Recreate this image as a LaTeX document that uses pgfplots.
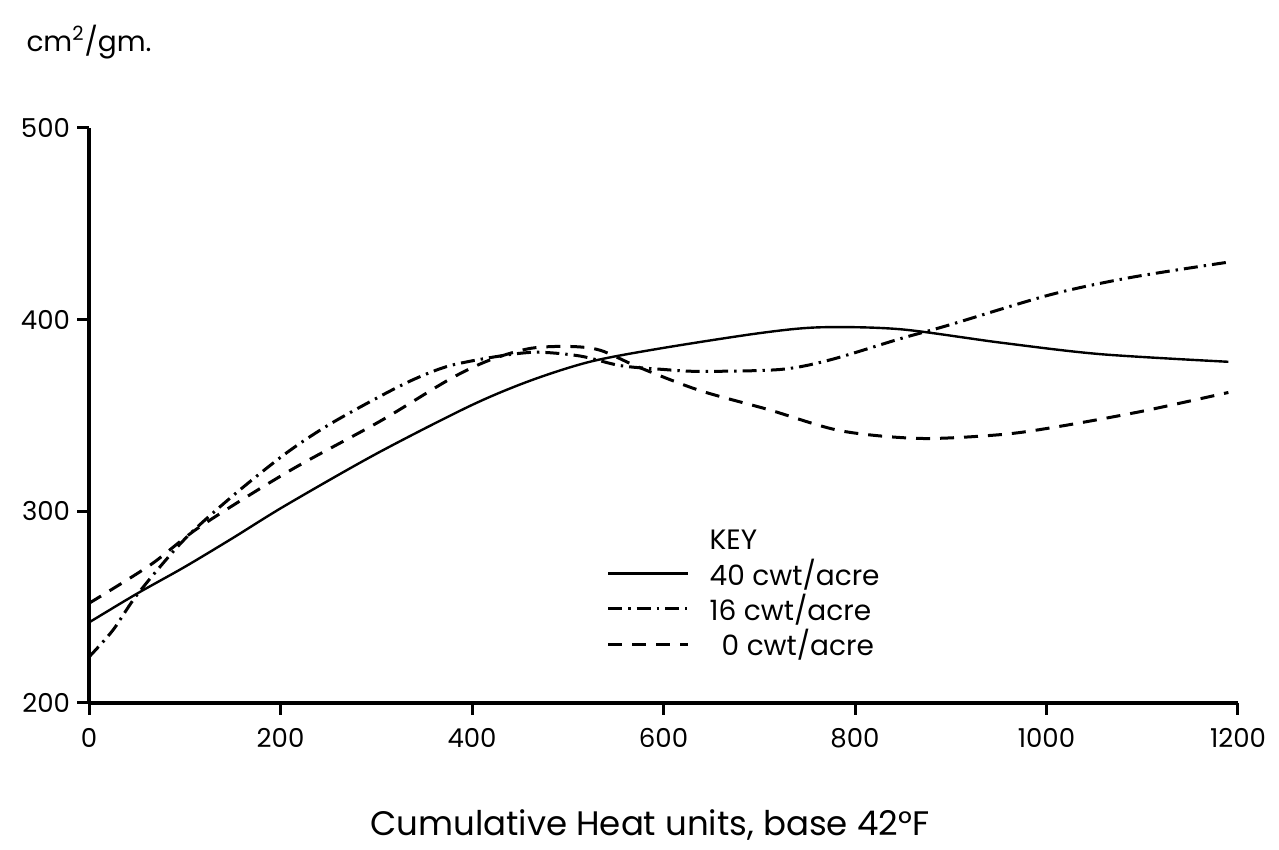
\documentclass[border=0pt]{standalone}
\usepackage{pgfplots}
\pgfplotsset{compat=1.18}
\usepackage{fontspec}
\setmainfont{Poppins}
\begin{document}
\begin{tikzpicture}
\begin{axis}[
  scale only axis,
  clip mode=individual,
  width=574.5pt, height=287.5pt,
  xmin=0, xmax=1200, ymin=200, ymax=500,
  axis x line=bottom, axis y line=left,
  axis line style={-, line width=1.8pt, black},
  xtick={0,200,400,600,800,1000,1200},
  ytick={200,300,400,500},
  tick align=outside,
  major tick length=6pt,
  tick style={line width=1.5pt, black},
  /pgf/number format/assume math mode=true,
  /pgf/number format/1000 sep={},
  tick label style={font=\fontsize{13}{13}\selectfont},
  xticklabel style={yshift=-3pt},
  legend style={at={(rel axis cs:0.445,0.315)}, anchor=north west, draw=none, fill=none,
    font=\fontsize{14}{16}\selectfont, row sep=-1pt},
  legend cell align=left,
  legend image code/.code={\draw[#1] (0pt,0pt) -- (40pt,0pt);},
]
\addlegendimage{empty legend}
\addlegendentry{\hspace{8pt}KEY}
\addplot[black, line width=1.2pt, smooth] coordinates {
(0,242) (50,257) (100,271) (150,286) (205,303) (300,330) (398,355) (460,368)
(523,378) (597,385) (701,393) (764,396) (847,395) (952,388) (1056,382) (1190,378)};
\addlegendentry{\hspace{8pt}40 cwt/acre}
\addplot[black, line width=1.5pt, smooth, dash pattern=on 7pt off 3pt on 1.2pt off 3pt] coordinates {
(0,224) (25,238) (51,257) (99,285) (150,308) (205,330) (250,345) (304,360) (340,369)
(377,376) (429,381) (468,383) (513,381) (555,376) (600,374) (638,373) (722,374)
(774,379) (847,390) (897,397) (1004,413) (1088,422) (1190,430)};
\addlegendentry{\hspace{8pt}16 cwt/acre}
\addplot[black, line width=1.5pt, smooth, dash pattern=on 7pt off 5pt] coordinates {
(0,252) (64,272) (116,292) (209,321) (304,347) (377,369) (419,379) (461,385)
(502,386) (534,384) (575,375) (638,363) (710,353) (785,342) (868,338) (952,340)
(1010,344) (1098,352) (1190,362)};
\addlegendentry{\hspace{14pt}0 cwt/acre}
\node[font=\fontsize{14}{14}\selectfont] at (rel axis cs:0.0,1.15) {cm\textsuperscript{2}/gm.};
\node[font=\fontsize{17}{17}\selectfont] at (rel axis cs:0.488,-0.212) {Cumulative Heat units, base 42°F};
\coordinate (bl) at (rel axis cs:-0.0775,-0.2557);
\coordinate (tr) at (rel axis cs:1.0357,1.2226);
\end{axis}
\pgfresetboundingbox
\path[use as bounding box] (bl) rectangle (tr);
\end{tikzpicture}
\end{document}
